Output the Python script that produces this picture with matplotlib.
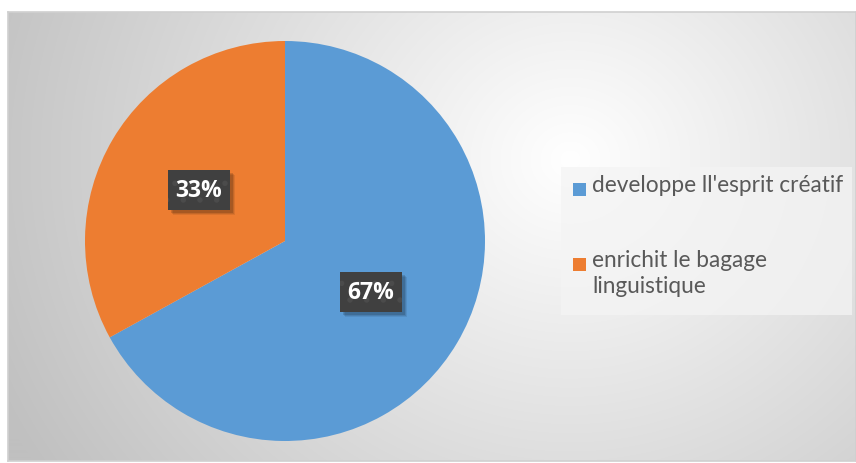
import numpy as np
import matplotlib
matplotlib.use("Agg")
import matplotlib.pyplot as plt
from matplotlib.patches import Rectangle

categories = ["developpe ll'esprit créatif", "enrichit le bagage\nlinguistique"]
values = [67, 33]
pct_labels = ["67%", "33%"]
colors = ["#5B9BD5", "#ED7D31"]

W, H = 856, 463
fig = plt.figure(figsize=(W / 100, H / 100), dpi=100)
fig.patch.set_facecolor("white")

# chart area background with radial gradient
x0, y0, x1, y1 = 8, 12, 856, 461  # pixel coords from top-left
bg = fig.add_axes([x0 / W, 1 - y1 / H, (x1 - x0) / W, (y1 - y0) / H])
yy, xx = np.mgrid[y0:y1, x0:x1]
d = np.hypot(xx - 570, (yy - 160) * 1.1)
g = np.clip(255 - 0.1 * d, 192, 255) / 255.0
img = np.dstack([g, g, g])
bg.imshow(img, aspect="auto", extent=[0, 1, 0, 1], origin="upper")
bg.set_xlim(0, 1)
bg.set_ylim(0, 1)
bg.set_xticks([])
bg.set_yticks([])
for s in bg.spines.values():
    s.set_color("#d0d0d0")
    s.set_linewidth(1.2)

# pie axes
cx, cy, r = 285, 241, 200
ax = fig.add_axes([(cx - r) / W, 1 - (cy + r) / H, 2 * r / W, 2 * r / H])
ax.set_facecolor("none")
wedges, _ = ax.pie(values, colors=colors, startangle=90, counterclock=False,
                   radius=1.0, wedgeprops=dict(linewidth=0))
ax.set_xlim(-1, 1)
ax.set_ylim(-1, 1)
ax.set_aspect("equal")
ax.axis("off")

plt.rcParams["hatch.linewidth"] = 1.5
lab_font = ["Open Sans", "DejaVu Sans"]
px_unit = 1.0 / r
bw, bh = 62 * px_unit, 40 * px_unit
for w, lab in zip(wedges, pct_labels):
    ang = np.deg2rad((w.theta1 + w.theta2) / 2)
    px, py = 0.5 * np.cos(ang), 0.5 * np.sin(ang)
    # soft shadow
    for k, a in [(5, 0.08), (4, 0.10), (3, 0.14)]:
        ax.add_patch(Rectangle((px - bw / 2 + k * px_unit, py - bh / 2 - k * px_unit),
                               bw, bh, facecolor="black", edgecolor="none",
                               alpha=a, zorder=3))
    ax.add_patch(Rectangle((px - bw / 2, py - bh / 2), bw, bh, facecolor="#404040",
                           edgecolor="#4b4b4b", linewidth=0, hatch=".",
                           zorder=4))
    ax.text(px, py - 1 * px_unit, lab, ha="center", va="center", fontsize=16.5,
            fontweight="bold", color="white", family=lab_font, zorder=5)

# legend
lg = fig.add_axes([0, 0, 1, 1])
lg.set_xlim(0, W)
lg.set_ylim(H, 0)
lg.axis("off")
lg.add_patch(Rectangle((561, 167), 291, 148, facecolor="#f4f4f4",
                       edgecolor="none", alpha=0.75))
entries_y = [189, 264]
for cat, col, ey in zip(categories, colors, entries_y):
    lg.add_patch(Rectangle((573, ey - 6), 13, 13, facecolor=col, edgecolor="none"))
    lg.text(592, ey - 14, cat, ha="left", va="top", fontsize=16.3,
            color="#595959", family=["Lato", "DejaVu Sans"], linespacing=1.3)

fig.savefig("out.png", dpi=100, facecolor="white")
